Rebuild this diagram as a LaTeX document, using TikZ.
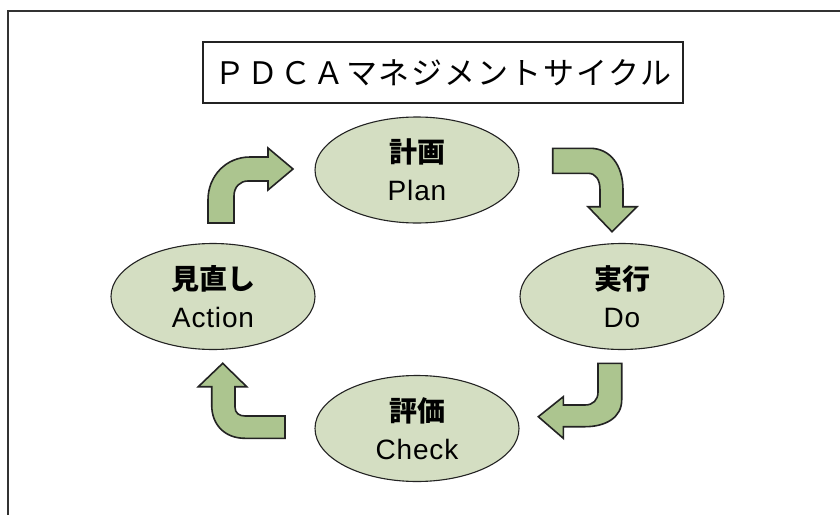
\documentclass[tikz,border=0pt]{standalone}
\usepackage{fontspec}
\usetikzlibrary{shapes.geometric}
\newfontfamily\jpfont{Noto Sans CJK JP}
\newfontfamily\titlefont{Noto Sans CJK JP}[LetterSpace=6]
\newfontfamily\latfont{Liberation Sans}[LetterSpace=3]
\definecolor{ellfill}{RGB}{212,222,194}
\definecolor{arrfill}{RGB}{172,197,143}
\definecolor{ink}{RGB}{35,35,35}
\definecolor{framecol}{RGB}{50,50,50}
\tikzset{
  stage/.style={ellipse, draw=ink, line width=1.1pt, fill=ellfill, minimum width=204pt, minimum height=106pt, inner sep=0pt, align=center, font=\fontsize{28}{38}\selectfont},
  blockarrow/.style={draw=ink, line width=1.6pt, fill=arrfill, line join=miter},
  titlebox/.style={draw=ink, line width=1.4pt, minimum width=480pt, minimum height=61pt, inner sep=0pt, font=\titlefont\fontsize{31}{32}\selectfont}
}
\begin{document}
\begin{tikzpicture}[x=1pt,y=-1pt]
\useasboundingbox (0,0) rectangle (840,514);
\fill[white] (0,0) rectangle (840,514);
% frame
\draw[framecol, line width=2pt] (8,520) -- (8,10.5) -- (850,10.5);
% title
\node[titlebox] (title) at (443,72.5) {ＰＤＣＡマネジメントサイクル};
% stages
\node[stage] (plan) at (417,170) {{\jpfont\bfseries 計画}\\{\latfont Plan}};
\node[stage] (do) at (622,296.5) {{\jpfont\bfseries 実行}\\{\latfont Do}};
\node[stage] (check) at (417,428.5) {{\jpfont\bfseries 評価}\\{\latfont Check}};
\node[stage] (act) at (213,296.5) {{\jpfont\bfseries 見直し}\\{\latfont Action}};
% block arrows
\draw[blockarrow] (208,223) -- (208,200) .. controls (208,176) and (226,157) .. (250,157) -- (268,157) -- (268,148) -- (293,169) -- (268,190) -- (268,181) -- (248,181) .. controls (240,181) and (234,187) .. (234,196) -- (234,223) -- cycle;
\draw[blockarrow] (552.7,148.3) -- (590,148.3) .. controls (610,148.3) and (623,165) .. (623,190) -- (623,206.7) -- (637,206.7) -- (612,231.7) -- (588,206.7) -- (600,206.7) -- (600,190) .. controls (600,180) and (596,173.3) .. (588,173.3) -- (552.7,173.3) -- cycle;
\draw[blockarrow] (598,363.3) -- (621.7,363.3) -- (621.7,400) .. controls (621.7,418) and (605,426.7) .. (585,426.7) -- (563.3,426.7) -- (563.3,438.3) -- (538.3,416.7) -- (563.3,396.7) -- (563.3,405) -- (585,405) .. controls (593,405) and (598,400) .. (598,392) -- cycle;
\draw[blockarrow] (285,416) -- (245,416) .. controls (239,416) and (235,413) .. (235,407) -- (235,386.7) -- (246.7,386.7) -- (222.7,363.3) -- (198.3,386.7) -- (211.7,386.7) -- (211.7,405) .. controls (211.7,425) and (225,438.3) .. (245,438.3) -- (285,438.3) -- cycle;
\end{tikzpicture}
\end{document}
